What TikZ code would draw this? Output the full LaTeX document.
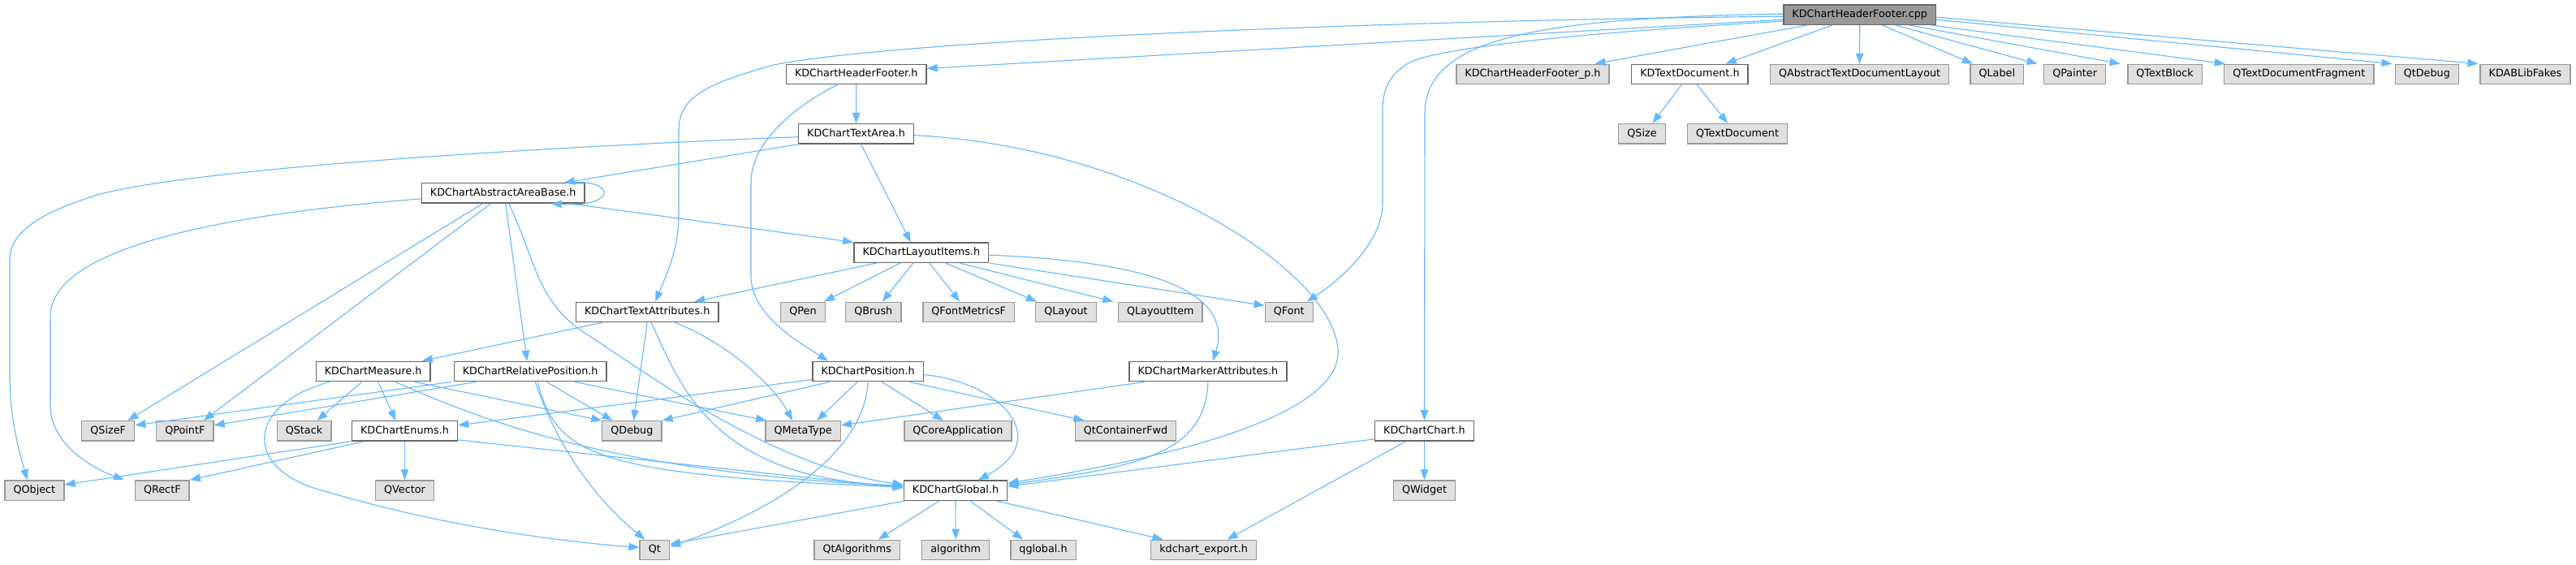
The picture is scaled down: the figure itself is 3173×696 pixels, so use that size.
\documentclass[tikz,border=0pt]{standalone}
\usepackage{fontspec}
\setmainfont{DejaVu Sans}
\usetikzlibrary{arrows.meta}
\definecolor{edgec}{HTML}{63B8FF}
\definecolor{cdark}{HTML}{666666}
\definecolor{cmid}{HTML}{999999}
\definecolor{clight}{HTML}{E0E0E0}
\newcommand{\nodefont}{\fontsize{12.77pt}{15pt}\selectfont}
\tikzset{
  box/.style={rectangle, line width=1.4pt, minimum height=24.3pt, inner xsep=10.6pt, inner ysep=0pt, text height=9.4pt, text depth=2.5pt, font=\nodefont},
  wn/.style={box, draw=cdark, fill=white},
  gn/.style={box, draw=cmid, fill=clight},
  rn/.style={box, draw=cdark, fill=cmid},
  dep/.style={draw=edgec, line width=1.1pt, -{Triangle[length=13pt,width=9.5pt]}}
}
\begin{document}
\begin{tikzpicture}[x=1pt,y=-1pt]
\useasboundingbox[fill=white] (0,0) rectangle (3173,696);
% row 0
\node[rn] (cpp) at (2290.7,18.2) {KDChartHeaderFooter.cpp};
% row 1
\node[wn] (hfh) at (1054.7,91.4) {KDChartHeaderFooter.h};
\node[gn] (hfp) at (1888.0,91.4) {KDChartHeaderFooter\_p.h};
\node[wn] (ktd) at (2081.4,91.4) {KDTextDocument.h};
\node[gn] (qatdl) at (2290.6,91.4) {QAbstractTextDocumentLayout};
\node[gn] (qlabel) at (2459.8,91.4) {QLabel};
\node[gn] (qpainter) at (2555.6,91.4) {QPainter};
\node[gn] (qtextblock) at (2666.6,91.4) {QTextBlock};
\node[gn] (qtdf) at (2831.8,91.4) {QTextDocumentFragment};
\node[gn] (qtdebug) at (2989.3,91.4) {QtDebug};
\node[gn] (kdab) at (3110.5,91.4) {KDABLibFakes};
% row 2
\node[wn] (ta) at (1054.5,164.7) {KDChartTextArea.h};
\node[gn] (qsize) at (2022.5,164.7) {QSize};
\node[gn] (qtextdoc) at (2140,164.7) {QTextDocument};
% row 3
\node[wn] (aab) at (619.7,237.9) {KDChartAbstractAreaBase.h};
% row 4
\node[wn] (li) at (1134.8,311.2) {KDChartLayoutItems.h};
% row 5
\node[wn] (tattr) at (797.2,384.4) {KDChartTextAttributes.h};
\node[gn] (qpen) at (989,384.4) {QPen};
\node[gn] (qbrush) at (1075.8,384.4) {QBrush};
\node[gn] (qfm) at (1193.2,384.4) {QFontMetricsF};
\node[gn] (qlayout) at (1313,384.4) {QLayout};
\node[gn] (qli) at (1429.3,384.4) {QLayoutItem};
\node[gn] (qfont) at (1587.8,384.4) {QFont};
% row 6
\node[wn] (meas) at (459.7,457.6) {KDChartMeasure.h};
\node[wn] (relpos) at (653.2,457.6) {KDChartRelativePosition.h};
\node[wn] (pos) at (1069.1,457.6) {KDChartPosition.h};
\node[wn] (marker) at (1487.9,457.6) {KDChartMarkerAttributes.h};
% row 7
\node[gn] (qsizef) at (133.2,530.9) {QSizeF};
\node[gn] (qpointf) at (227.8,530.9) {QPointF};
\node[gn] (qstack) at (374.5,530.9) {QStack};
\node[wn] (enums) at (498.5,530.9) {KDChartEnums.h};
\node[gn] (qdebug) at (778.4,530.9) {QDebug};
\node[gn] (qmetatype) at (989.2,530.9) {QMetaType};
\node[gn] (qcoreapp) at (1179.9,530.9) {QCoreApplication};
\node[gn] (qtcf) at (1386.5,530.9) {QtContainerFwd};
\node[wn] (chart) at (1754.5,530.9) {KDChartChart.h};
% row 8
\node[gn] (qobject) at (42.4,604.1) {QObject};
\node[gn] (qrectf) at (199.8,604.1) {QRectF};
\node[gn] (qvector) at (498.5,604.1) {QVector};
\node[wn] (global) at (1177,604.1) {KDChartGlobal.h};
\node[gn] (qwidget) at (1754.5,604.1) {QWidget};
% row 9
\node[gn] (qt) at (806.3,677.4) {Qt};
\node[gn] (qtalg) at (1055.8,677.4) {QtAlgorithms};
\node[gn] (algorithm) at (1177.2,677.4) {algorithm};
\node[gn] (qglobal) at (1285,677.4) {qglobal.h};
\node[gn] (export) at (1482.6,677.4) {kdchart\_export.h};

% ---- edges from cpp
\draw[dep] ([yshift=-6pt]cpp.west) -- ([yshift=7pt]hfh.east);
\draw[dep] ([yshift=-2pt]cpp.west) .. controls (1700,25) and (1100,50) .. (953,80) .. controls (870,103) and (836,120) .. (836,160) -- (836,266) .. controls (836,310) and (818,345) .. ([xshift=10pt]tattr.north);
\draw[dep] ([yshift=-8pt]cpp.west) .. controls (1950,40) and (1780,58) .. (1738,76) .. controls (1712,90) and (1703,110) .. (1703,135) -- (1703,250) .. controls (1703,300) and (1650,345) .. ([xshift=22pt]qfont.north);
\draw[dep] ([yshift=1pt]cpp.west) .. controls (1900,22) and (1755,45) .. (1755,140) -- (chart.north);
\draw[dep] ([xshift=-65pt]cpp.south) -- ([xshift=76.6pt]hfp.north);
\draw[dep] ([xshift=-34pt]cpp.south) -- ([xshift=44.3pt]ktd.north);
\draw[dep] (cpp.south) -- (qatdl.north);
\draw[dep] ([xshift=28pt]cpp.south) -- ([xshift=-30pt]qlabel.north);
\draw[dep] ([xshift=44pt]cpp.south) -- ([xshift=-46pt]qpainter.north);
\draw[dep] ([xshift=61pt]cpp.south) -- ([xshift=-55pt]qtextblock.north);
\draw[dep] ([xshift=88pt]cpp.south) -- ([xshift=-91pt]qtdf.north);
\draw[dep] ([yshift=-6pt]cpp.east) -- ([xshift=-43pt]qtdebug.north);
\draw[dep] ([yshift=-3pt]cpp.east) -- ([xshift=-58pt]kdab.north);
% ---- KDTextDocument.h
\draw[dep] ([xshift=-10pt]ktd.south) -- ([xshift=13pt]qsize.north);
\draw[dep] ([xshift=9pt]ktd.south) -- ([xshift=-12pt]qtextdoc.north);
% ---- KDChartHeaderFooter.h
\draw[dep] (hfh.south) -- (ta.north);
\draw[dep] ([xshift=-23pt]hfh.south) .. controls (980,130) and (925,175) .. (925,225) -- (925,340) .. controls (925,390) and (990,425) .. ([xshift=-49pt]pos.north);
% ---- KDChartTextArea.h
\draw[dep] ([xshift=-70pt]ta.south) -- ([xshift=75pt]aab.north);
\draw[dep] ([yshift=-4pt]ta.west) .. controls (700,180) and (250,205) .. (120,240) .. controls (40,265) and (12,290) .. (12,320) -- (12,460) .. controls (12,520) and (25,560) .. ([xshift=-9pt]qobject.north);
\draw[dep] ([xshift=6pt]ta.south) -- ([xshift=-13pt]li.north);
\draw[dep] ([yshift=-2pt]ta.east) .. controls (1400,180) and (1640,330) .. (1648,430) .. controls (1655,520) and (1400,570) .. ([yshift=9pt]global.east);
% ---- KDChartAbstractAreaBase.h
\draw[dep] ([xshift=-20pt]aab.north east) .. controls (760,220) and (760,256) .. ([xshift=-42pt]aab.south east);
\draw[dep] ([xshift=82pt]aab.south) -- (li.north west);
\draw[dep] ([xshift=-25pt]aab.south) -- ([xshift=24pt]qsizef.north);
\draw[dep] ([xshift=-15pt]aab.south) -- ([xshift=23pt]qpointf.north);
\draw[dep] ([xshift=3pt]aab.south) -- ([xshift=-4pt]relpos.north);
\draw[dep] ([xshift=7pt]aab.south) .. controls (660,320) and (660,370) .. (720,410) .. controls (790,455) and (950,575) .. ([yshift=7pt]global.west);
\draw[dep] ([yshift=-7pt]aab.west) .. controls (300,262) and (62,300) .. (62,390) -- (62,500) .. controls (62,545) and (110,575) .. ([xshift=-47pt]qrectf.north);
% ---- KDChartLayoutItems.h
\draw[dep] ([xshift=-55pt]li.south) -- ([xshift=58pt]tattr.north);
\draw[dep] ([xshift=-26pt]li.south) -- ([xshift=26pt]qpen.north);
\draw[dep] ([xshift=-10pt]li.south) -- ([xshift=11pt]qbrush.north);
\draw[dep] ([xshift=10pt]li.south) -- ([xshift=-11pt]qfm.north);
\draw[dep] ([xshift=30pt]li.south) -- ([xshift=-36pt]qlayout.north);
\draw[dep] ([xshift=47pt]li.south) -- ([xshift=-58pt]qli.north);
\draw[dep] (li.south east) -- ([yshift=8pt]qfont.west);
\draw[dep] ([yshift=-3pt]li.east) .. controls (1420,322) and (1520,360) .. ([xshift=6pt]marker.north);
% ---- KDChartTextAttributes.h
\draw[dep] ([xshift=-55pt]tattr.south) -- ([xshift=60pt]meas.north);
\draw[dep] (tattr.south) -- ([xshift=2pt]qdebug.north);
\draw[dep] ([xshift=34pt]tattr.south) .. controls (890,420) and (950,470) .. ([xshift=-13pt]qmetatype.north);
\draw[dep] ([xshift=5pt]tattr.south) .. controls (840,480) and (880,590) .. ([yshift=6pt]global.west);
% ---- KDChartMeasure.h
\draw[dep] ([xshift=-54pt]meas.south) .. controls (300,500) and (300,580) .. (400,605) .. controls (550,650) and (700,668) .. ([yshift=3pt]qt.west);
\draw[dep] ([xshift=-14pt]meas.south) -- ([xshift=16pt]qstack.north);
\draw[dep] ([xshift=6pt]meas.south) -- ([xshift=-11pt]enums.north);
\draw[dep] ([xshift=27pt]meas.south) .. controls (600,520) and (750,580) .. ([yshift=5pt]global.west);
\draw[dep] ([xshift=51pt]meas.south) -- ([xshift=-37pt]qdebug.north);
% ---- KDChartRelativePosition.h
\draw[dep] ([xshift=-97pt]relpos.south) -- ([yshift=7pt]qsizef.east);
\draw[dep] ([xshift=-67pt]relpos.south) -- ([yshift=7pt]qpointf.east);
\draw[dep] ([xshift=20pt]relpos.south) -- ([xshift=-24pt]qdebug.north);
\draw[dep] ([xshift=55pt]relpos.south) -- ([xshift=-45pt]qmetatype.north);
\draw[dep] ([xshift=6pt]relpos.south) .. controls (690,560) and (740,620) .. ([xshift=-12pt]qt.north);
\draw[dep] ([xshift=9pt]relpos.south) .. controls (685,560) and (730,585) .. ([yshift=4pt]global.west);
% ---- KDChartPosition.h
\draw[dep] ([yshift=-10pt]pos.west) -- ([yshift=7pt]enums.east);
\draw[dep] ([xshift=-47pt]pos.south) -- (qdebug.north east);
\draw[dep] ([xshift=-13pt]pos.south) -- ([xshift=17pt]qmetatype.north);
\draw[dep] (pos.south) .. controls (1065,560) and (950,630) .. ([yshift=4pt]qt.east);
\draw[dep] ([xshift=17pt]pos.south) -- ([xshift=-18pt]qcoreapp.north);
\draw[dep] ([xshift=51pt]pos.south) -- ([xshift=-51pt]qtcf.north);
\draw[dep] ([yshift=-4pt]pos.east) .. controls (1230,470) and (1300,540) .. ([xshift=28pt]global.north);
% ---- KDChartMarkerAttributes.h
\draw[dep] ([xshift=-78pt]marker.south) -- ([yshift=7pt]qmetatype.east);
\draw[dep] (marker.south) .. controls (1485,560) and (1400,575) .. ([yshift=7pt]global.east);
% ---- KDChartChart.h
\draw[dep] ([yshift=-10pt]chart.west) -- ([yshift=5pt]global.east);
\draw[dep] (chart.south) -- (qwidget.north);
\draw[dep] ([xshift=-23pt]chart.south) -- ([xshift=29pt]export.north);
% ---- KDChartGlobal.h
\draw[dep] ([xshift=-62pt]global.south) -- ([yshift=7pt]qt.east);
\draw[dep] ([xshift=-20pt]global.south) -- ([xshift=26pt]qtalg.north);
\draw[dep] (global.south) -- (algorithm.north);
\draw[dep] ([xshift=18pt]global.south) -- ([xshift=-25pt]qglobal.north);
\draw[dep] ([xshift=50pt]global.south) -- ([xshift=-50pt]export.north);
% ---- KDChartEnums.h
\draw[dep] (enums.south west) -- ([yshift=7pt]qobject.east);
\draw[dep] ([xshift=-50pt]enums.south) -- (qrectf.north east);
\draw[dep] (enums.south) -- (qvector.north);
\draw[dep] ([yshift=-11pt]enums.east) -- ([yshift=3pt]global.west);
\end{tikzpicture}
\end{document}
